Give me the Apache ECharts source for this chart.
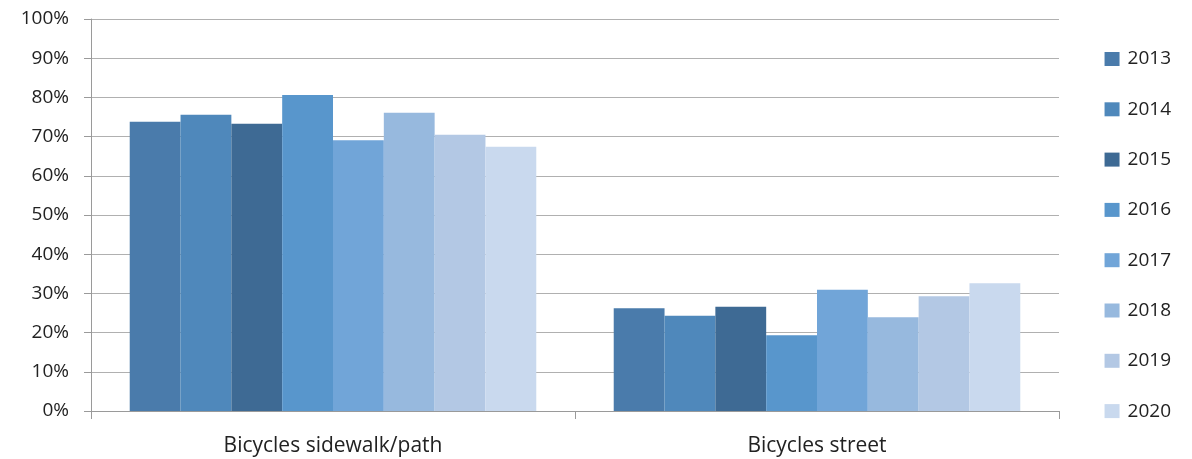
<!DOCTYPE html>
<html>
<head>
<meta charset="utf-8">
<script src="https://cdn.jsdelivr.net/npm/echarts@6/dist/echarts.min.js"></script>
<style>
html,body{margin:0;padding:0;background:#fff;}
#chart{width:1192px;height:459px;}
</style>
</head>
<body>
<div id="chart"></div>
<script>
const categories = ['Bicycles sidewalk/path', 'Bicycles street'];
const years = ['2013', '2014', '2015', '2016', '2017', '2018', '2019', '2020'];
const v2013 = [73.8, 26.2];
const v2014 = [75.6, 24.3];
const v2015 = [73.3, 26.6];
const v2016 = [80.6, 19.3];
const v2017 = [69.1, 30.9];
const v2018 = [76.1, 23.9];
const v2019 = [70.5, 29.3];
const v2020 = [67.4, 32.6];
const colors = ['#4a7bab', '#4f88bb', '#3e6a94', '#5896cc', '#71a5d8', '#97b9de', '#b3c8e4', '#c9d9ee'];
const yTicks = { min: 0, max: 100, interval: 10 };

const values = [v2013, v2014, v2015, v2016, v2017, v2018, v2019, v2020];
const font = '"Open Sans", "Noto Sans", sans-serif';

const chart = echarts.init(document.getElementById('chart'), null, { renderer: 'canvas' });
chart.setOption({
  animation: false,
  backgroundColor: '#ffffff',
  color: colors,
  grid: { left: 91, right: 133, top: 19, bottom: 48, containLabel: false },
  legend: {
    orient: 'vertical',
    right: 16,
    top: 42,
    itemWidth: 15,
    itemHeight: 14,
    itemGap: 26.3,
    itemStyle: { borderWidth: 0 },
    icon: 'rect',
    textStyle: { fontFamily: font, fontSize: 19, color: '#222', lineHeight: 24, padding: [0, 0, 0, 3] },
    data: years
  },
  xAxis: {
    type: 'category',
    data: categories,
    axisLine: { lineStyle: { color: '#9a9a9a', width: 1 } },
    axisTick: { show: true, length: 8, lineStyle: { color: '#9a9a9a' } },
    axisLabel: { fontFamily: font, fontSize: 21, color: '#222', margin: 25 }
  },
  yAxis: {
    type: 'value',
    min: yTicks.min,
    max: yTicks.max,
    interval: yTicks.interval,
    axisLine: { show: true, lineStyle: { color: '#9a9a9a', width: 1 } },
    axisTick: { show: true, length: 7, lineStyle: { color: '#9a9a9a' } },
    splitLine: { lineStyle: { color: '#b0b0b0', width: 1 } },
    axisLabel: { formatter: '{value}%', fontFamily: font, fontSize: 19, color: '#222', margin: 22 }
  },
  series: years.map((y, i) => ({
    name: y,
    type: 'bar',
    data: values[i],
    barGap: '0%',
    barCategoryGap: '16%',
    itemStyle: { color: colors[i] }
  }))
});
</script>
</body>
</html>
